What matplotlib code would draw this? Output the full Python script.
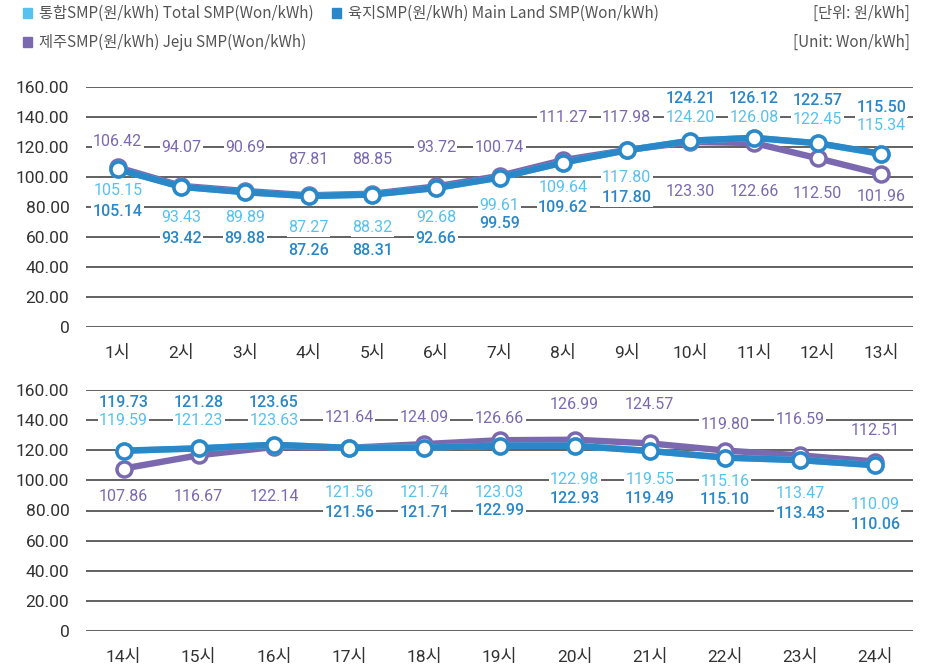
import matplotlib
matplotlib.use("Agg")
import matplotlib.pyplot as plt

plt.rcParams['font.family'] = ['Roboto', 'Noto Sans CJK KR', 'DejaVu Sans']

# data
hours_top = ["1시", "2시", "3시", "4시", "5시", "6시", "7시", "8시", "9시", "10시", "11시", "12시", "13시"]
hours_bot = ["14시", "15시", "16시", "17시", "18시", "19시", "20시", "21시", "22시", "23시", "24시"]

total_top = [105.15, 93.43, 89.89, 87.27, 88.32, 92.68, 99.61, 109.64, 117.80, 124.20, 126.08, 122.45, 115.34]
main_top = [105.14, 93.42, 89.88, 87.26, 88.31, 92.66, 99.59, 109.62, 117.80, 124.21, 126.12, 122.57, 115.50]
jeju_top = [106.42, 94.07, 90.69, 87.81, 88.85, 93.72, 100.74, 111.27, 117.98, 123.30, 122.66, 112.50, 101.96]

total_bot = [119.59, 121.23, 123.63, 121.56, 121.74, 123.03, 122.98, 119.55, 115.16, 113.47, 110.09]
main_bot = [119.73, 121.28, 123.65, 121.56, 121.71, 122.99, 122.93, 119.49, 115.10, 113.43, 110.06]
jeju_bot = [107.86, 116.67, 122.14, 121.64, 124.09, 126.66, 126.99, 124.57, 119.80, 116.59, 112.51]

yticks = [0, 20, 40, 60, 80, 100, 120, 140, 160]
ytick_labels = ["0", "20.00", "40.00", "60.00", "80.00", "100.00", "120.00", "140.00", "160.00"]

# where the value labels sit (y in data units)
pos_top = {
    "jeju": [124, 120, 120, 112, 112, 120, 120, 140, 140, 90, 90, 89, 87],
    "total": [91, 73, 73, 66, 66, 73, 81, 93, 100, 140, 140, 138.5, 134],
    "main": [77, 59, 59, 51, 51, 59, 69, 80, 86, 152.5, 152.5, 151, 146],
}
pos_bot = {
    "jeju": [89, 89, 89, 141.5, 141.5, 141, 150.5, 150.5, 137, 140.5, 133],
    "total": [139.5, 139.5, 139.5, 92, 92, 92, 100.5, 100.5, 99.5, 91, 84],
    "main": [152, 152, 152, 79, 79, 80, 88, 88, 87.5, 78, 71],
}

c_total = "#56c2ef"
c_main = "#2a87c8"
c_jeju = "#7b69b0"
c_grid = "#555555"
c_text = "#333333"

fig = plt.figure(figsize=(9.35, 6.65), dpi=100)
ax1 = fig.add_axes([86 / 935, 1 - 327 / 665, 827 / 935, 240 / 665])
ax2 = fig.add_axes([86 / 935, 1 - 631 / 665, 827 / 935, 241 / 665])


def draw(ax, hours, total, main, jeju, pos):
    x = list(range(len(hours)))
    for y in yticks:
        ax.axhline(y, color=c_grid, lw=1.3, zorder=1)
    for vals, col, z in [(jeju, c_jeju, 3), (total, c_total, 4), (main, c_main, 5)]:
        ax.plot(x, vals, color=col, lw=4.6, marker="o", ms=10.8, mfc="white",
                mec=col, mew=2.5, zorder=z, clip_on=False)
    for key, vals, col, w in [("jeju", jeju, c_jeju, "normal"),
                              ("total", total, c_total, "normal"),
                              ("main", main, c_main, "medium")]:
        for i, v in enumerate(vals):
            ax.text(x[i], pos[key][i], f"{v:.2f}", color=col, fontsize=11.5, fontweight=w,
                    ha="center", va="center", zorder=6,
                    bbox=dict(facecolor="white", edgecolor="none", pad=1.0))
    ax.set_xlim(-0.5, len(hours) - 0.5)
    ax.set_ylim(0, 160)
    ax.set_xticks(x)
    ax.set_xticklabels(hours, fontsize=12.5, color=c_text)
    ax.set_yticks(yticks)
    ax.set_yticklabels(ytick_labels, fontsize=12.5, color=c_text)
    ax.tick_params(length=0)
    ax.tick_params(axis="x", pad=13)
    ax.tick_params(axis="y", pad=12)
    for s in ax.spines.values():
        s.set_visible(False)


draw(ax1, hours_top, total_top, main_top, jeju_top, pos_top)
draw(ax2, hours_bot, total_bot, main_bot, jeju_bot, pos_bot)

# legend
leg = [("통합SMP(원/kWh) Total SMP(Won/kWh)", c_total, 23, 13),
       ("육지SMP(원/kWh) Main Land SMP(Won/kWh)", c_main, 332, 13),
       ("제주SMP(원/kWh) Jeju SMP(Won/kWh)", c_jeju, 23, 42)]
for txt, col, px, py in leg:
    fig.patches.append(plt.Rectangle((px / 935, 1 - (py + 4.5) / 665), 9 / 935, 9 / 665,
                                     transform=fig.transFigure, color=col))
    fig.text((px + 16) / 935, 1 - py / 665, txt, fontsize=11, color="#555555",
             ha="left", va="center", family=["Noto Sans CJK KR", "DejaVu Sans"])

fig.text(910 / 935, 1 - 13 / 665, "[단위: 원/kWh]", fontsize=11, color="#555555",
         ha="right", va="center", family=["Noto Sans CJK KR", "DejaVu Sans"])
fig.text(910 / 935, 1 - 42 / 665, "[Unit: Won/kWh]", fontsize=11, color="#555555",
         ha="right", va="center", family=["Noto Sans CJK KR", "DejaVu Sans"])

fig.savefig("out.png", dpi=100)
